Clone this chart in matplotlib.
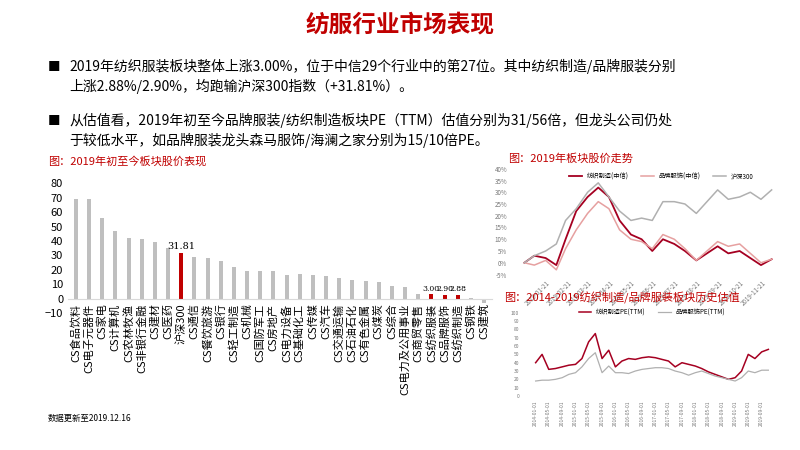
import matplotlib.pyplot as plt
import pandas as pd

plt.rcParams['font.family'] = ['Noto Sans CJK SC', 'DejaVu Sans']

RED = '#c00000'
GRAY = '#bfbfbf'

# bar chart: 2019 YTD sector performance (%)
sectors = ['CS食品饮料', 'CS电子元器件', 'CS家电', 'CS计算机', 'CS农林牧渔', 'CS非银行金融',
           'CS建材', 'CS医药', '沪深300', 'CS通信', 'CS餐饮旅游', 'CS银行', 'CS轻工制造',
           'CS机械', 'CS国防军工', 'CS房地产', 'CS电力设备', 'CS基础化工', 'CS传媒', 'CS汽车',
           'CS交通运输', 'CS石油石化', 'CS有色金属', 'CS煤炭', 'CS综合', 'CS电力及公用事业',
           'CS商贸零售', 'CS纺织服装', 'CS品牌服饰', 'CS纺织制造', 'CS钢铁', 'CS建筑']
returns = [69.3, 69.3, 56, 47, 42, 41.5, 39, 35, 31.81, 29, 28, 26, 22, 19.5, 19, 19,
           16.5, 17, 16.6, 16, 14.3, 13, 12.5, 11.5, 8.5, 7.8, 3.1, 3.00, 2.90, 2.88, 0.5, -3]
highlight = ['沪深300', 'CS纺织服装', 'CS品牌服饰', 'CS纺织制造']

# 2019 price trend (%)
trend_dates = ['2019-01-02', '2019-01-16', '2019-02-01', '2019-02-16', '2019-03-01', '2019-03-16',
               '2019-04-01', '2019-04-16', '2019-05-01', '2019-05-16', '2019-06-01', '2019-06-16',
               '2019-07-01', '2019-07-16', '2019-08-01', '2019-08-16', '2019-09-01', '2019-09-16',
               '2019-10-01', '2019-10-16', '2019-11-01', '2019-11-16', '2019-12-01', '2019-12-16']
textile = [0, 3, 2, -1, 10, 22, 28, 32, 28, 18, 12, 10, 5, 10, 8, 5, 1, 4, 7, 4, 5, 2, -1, 1.5]
brand = [0, -1, 1, -3, 6, 14, 21, 26, 23, 14, 10, 9, 6, 12, 10, 6, 1, 5, 9, 7, 8, 4, 0, 1.5]
hs300 = [0, 3, 5, 8, 18, 23, 30, 34, 28, 22, 18, 19, 18, 26, 26, 25, 21, 26, 31, 27, 28, 30, 27, 31]
trend_ticks = ['2019-01-21', '2019-02-21', '2019-03-21', '2019-04-21', '2019-05-21', '2019-06-21',
               '2019-07-21', '2019-08-21', '2019-09-21', '2019-10-21', '2019-11-21']

# 2014-2019 PE(TTM), bimonthly
pe_dates = pd.date_range('2014-01-01', periods=36, freq='2MS')
pe_textile = [40, 50, 32, 33, 35, 37, 38, 45, 65, 75, 45, 55, 35, 42, 45, 44, 46, 47,
              46, 44, 42, 35, 40, 38, 36, 33, 29, 26, 23, 20, 22, 30, 50, 45, 53, 56]
pe_brand = [18, 19, 19, 20, 22, 26, 28, 35, 45, 52, 28, 36, 28, 28, 27, 30, 32, 33,
            34, 34, 33, 30, 28, 25, 28, 30, 27, 24, 22, 20, 18, 22, 30, 28, 31, 31]

fig = plt.figure(figsize=(8, 4.5), dpi=100)

fig.text(0.5, 0.945, '纺服行业市场表现', color=RED, fontsize=17, fontweight='bold', ha='center', va='center')
bullets = [
    ('2019年纺织服装板块整体上涨3.00%，位于中信29个行业中的第27位。其中纺织制造/品牌服装分别\n'
     '上涨2.88%/2.90%，均跑输沪深300指数（+31.81%）。', 0.865),
    ('从估值看，2019年初至今品牌服装/纺织制造板块PE（TTM）估值分别为31/56倍，但龙头公司仍处\n'
     '于较低水平，如品牌服装龙头森马服饰/海澜之家分别为15/10倍PE。', 0.745),
]
for txt, y in bullets:
    fig.text(0.06, y, '■', fontsize=9, va='top')
    fig.text(0.087, y + 0.005, txt, fontsize=10, va='top', linespacing=1.45)

# bar chart
ax = fig.add_axes([0.085, 0.304, 0.53, 0.289])
for s in ['top', 'right', 'left']:
    ax.spines[s].set_visible(False)
ax.spines['bottom'].set_color('#d9d9d9')
ax.spines['bottom'].set_position(('data', 0))
colors = [RED if s in highlight else GRAY for s in sectors]
ax.bar(range(len(sectors)), returns, width=0.3, color=colors)
ax.set_ylim(-10, 80)
ax.set_yticks(range(-10, 81, 10))
ax.set_xlim(-0.6, len(sectors) - 0.4)
ax.set_xticks(range(len(sectors)))
ax.set_xticklabels(sectors, fontsize=8, rotation=90)
ax.tick_params(length=0, labelsize=8)
for i, s in enumerate(sectors):
    if s in highlight:
        ax.text(i, returns[i] + 1, '%.2f' % returns[i], ha='center', va='bottom',
                fontsize=7 if s == '沪深300' else 5.5, family='DejaVu Serif')
fig.text(0.06, 0.635, '图：2019年初至今板块股价表现', color=RED, fontsize=8, style='italic')
fig.text(0.06, 0.065, '数据更新至2019.12.16', fontsize=6, style='italic')

# trend chart
ax2 = fig.add_axes([0.64, 0.39, 0.34, 0.235])
d = pd.to_datetime(trend_dates)
ax2.plot(d, textile, color='#a50021', lw=1.3, label='纺织制造(中信)')
ax2.plot(d, brand, color='#e6a0a0', lw=1.1, label='品牌服饰(中信)')
ax2.plot(d, hs300, color='#b0b0b0', lw=1.1, label='沪深300')
ax2.set_ylim(-5, 40)
ax2.set_yticks(range(-5, 41, 5))
ax2.set_yticklabels(['-5%'] + ['%d%%' % v for v in range(0, 41, 5)])
ax2.set_xticks(pd.to_datetime(trend_ticks))
ax2.set_xticklabels(trend_ticks, rotation=45, fontsize=4, color='#777777')
ax2.tick_params(labelsize=4.5, length=0, colors='#777777')
for s in ax2.spines.values():
    s.set_visible(False)
ax2.legend(loc='upper center', ncol=3, fontsize=4.5, frameon=False, bbox_to_anchor=(0.55, 1.02))
fig.text(0.635, 0.64, '图：2019年板块股价走势', color=RED, fontsize=8, style='italic')

# PE chart
ax3 = fig.add_axes([0.655, 0.12, 0.32, 0.185])
ax3.plot(pe_dates, pe_textile, color='#a50021', lw=1.1, label='纺织制造PE(TTM)')
ax3.plot(pe_dates, pe_brand, color='#b0b0b0', lw=0.9, label='品牌服饰PE(TTM)')
ax3.set_ylim(0, 100)
ax3.set_yticks(range(0, 101, 10))
ax3.set_xticks(pe_dates[::2])
ax3.set_xticklabels([x.strftime('%Y-%m-%d') for x in pe_dates[::2]], rotation=90, fontsize=3)
ax3.tick_params(labelsize=3.5, length=0, colors='#777777')
for s in ax3.spines.values():
    s.set_visible(False)
ax3.legend(loc='upper center', ncol=2, fontsize=4.5, frameon=False, bbox_to_anchor=(0.5, 1.12))
fig.text(0.63, 0.33, '图：2014-2019纺织制造/品牌服装板块历史估值', color=RED, fontsize=8, style='italic')

fig.savefig('out.png', dpi=100)
